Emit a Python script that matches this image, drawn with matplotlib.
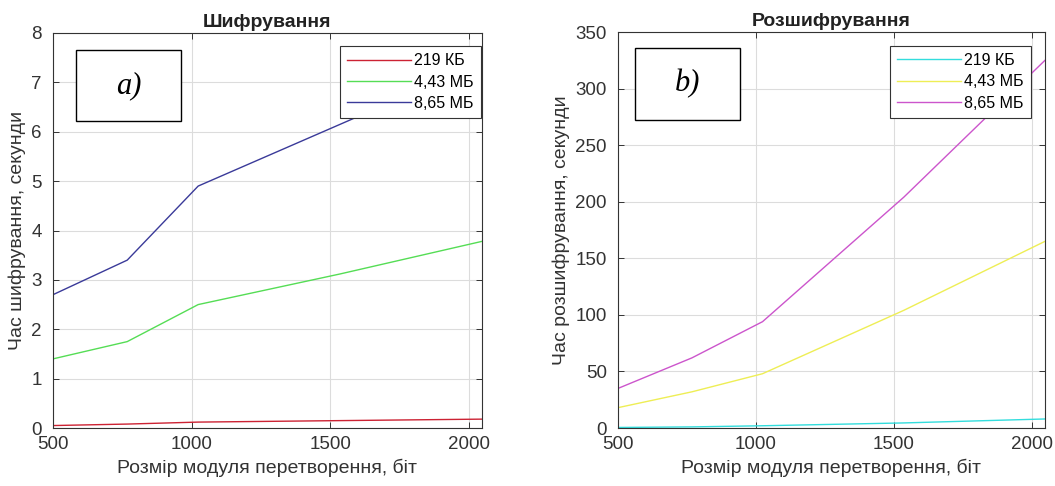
import matplotlib
matplotlib.use("Agg")
import matplotlib.pyplot as plt
from matplotlib.patches import Rectangle

plt.rcParams['font.family'] = ['Liberation Sans', 'DejaVu Sans']

key_bits = [500, 768, 1024, 1536, 2048]
labels = ["219 КБ", "4,43 МБ", "8,65 МБ"]

enc_219k = [0.05, 0.08, 0.12, 0.15, 0.18]
enc_443m = [1.40, 1.75, 2.50, 3.12, 3.78]
enc_865m = [2.70, 3.40, 4.90, 6.15, 7.40]

dec_219k = [0.5, 1.0, 2.0, 4.5, 8.0]
dec_443m = [18, 32, 48, 104, 165]
dec_865m = [35, 62, 94, 204, 325]

enc_colors = ['#cc2233', '#55dd55', '#3a3a99']
dec_colors = ['#33dddd', '#eeee55', '#cc55cc']

fig = plt.figure(figsize=(10.55, 4.86), dpi=100)
ax1 = fig.add_axes([0.0502, 0.1193, 0.4066, 0.8128])
ax2 = fig.add_axes([0.5858, 0.1193, 0.4047, 0.8148])

def style(ax, ylim, yticks, title, ylabel):
    ax.set_xlim(500, 2048)
    ax.set_ylim(*ylim)
    ax.set_xticks([500, 1000, 1500, 2000])
    ax.set_yticks(yticks)
    ax.grid(True, color='#dcdcdc', linewidth=0.8)
    ax.set_axisbelow(True)
    ax.tick_params(direction='in', top=True, right=True, labelsize=13.5,
                   colors='#333333', length=4, width=0.7, pad=6)
    ax.tick_params(axis='y', pad=8)
    for s in ax.spines.values():
        s.set_color('#333333')
        s.set_linewidth(0.8)
    ax.set_title(title, fontsize=14, fontweight='bold', color='#222222', pad=4)
    ax.set_xlabel("Розмір модуля перетворення, біт", fontsize=14, color='#333333', labelpad=4)
    ax.set_ylabel(ylabel, fontsize=14, color='#333333', labelpad=4)

for ys, c, lab in zip([enc_219k, enc_443m, enc_865m], enc_colors, labels):
    ax1.plot(key_bits, ys, color=c, linewidth=1.0, label=lab)
for ys, c, lab in zip([dec_219k, dec_443m, dec_865m], dec_colors, labels):
    ax2.plot(key_bits, ys, color=c, linewidth=1.0, label=lab)

style(ax1, (0, 8), range(0, 9), "Шифрування", "Час шифрування, секунди")
style(ax2, (0, 350), range(0, 351, 50), "Розшифрування", "Час розшифрування, секунди")

def legend(ax, anchor):
    lg = ax.legend(loc='upper right', bbox_to_anchor=anchor, borderaxespad=0,
                   fontsize=11.5, handlelength=4.0, handletextpad=0.2,
                   labelspacing=0.4, borderpad=0.45, fancybox=False,
                   framealpha=1, edgecolor='#333333')
    lg.get_frame().set_linewidth(0.8)

legend(ax1, (0.998, 0.967))
legend(ax2, (0.967, 0.965))

def box(ax, x0, y0, x1, y1, txt):
    ax.add_patch(Rectangle((x0, y0), x1 - x0, y1 - y0, transform=ax.transAxes,
                           facecolor='white', edgecolor='black', linewidth=1.0, zorder=5))
    ax.text((x0 + x1) / 2, (y0 + y1) / 2, txt, transform=ax.transAxes,
            ha='center', va='center', fontsize=22, style='italic',
            family=['Liberation Serif', 'DejaVu Serif'], zorder=6)

box(ax1, 0.0536, 0.777, 0.298, 0.957, "a)")
box(ax2, 0.040, 0.778, 0.286, 0.960, "b)")

fig.savefig("out.png", dpi=100)
